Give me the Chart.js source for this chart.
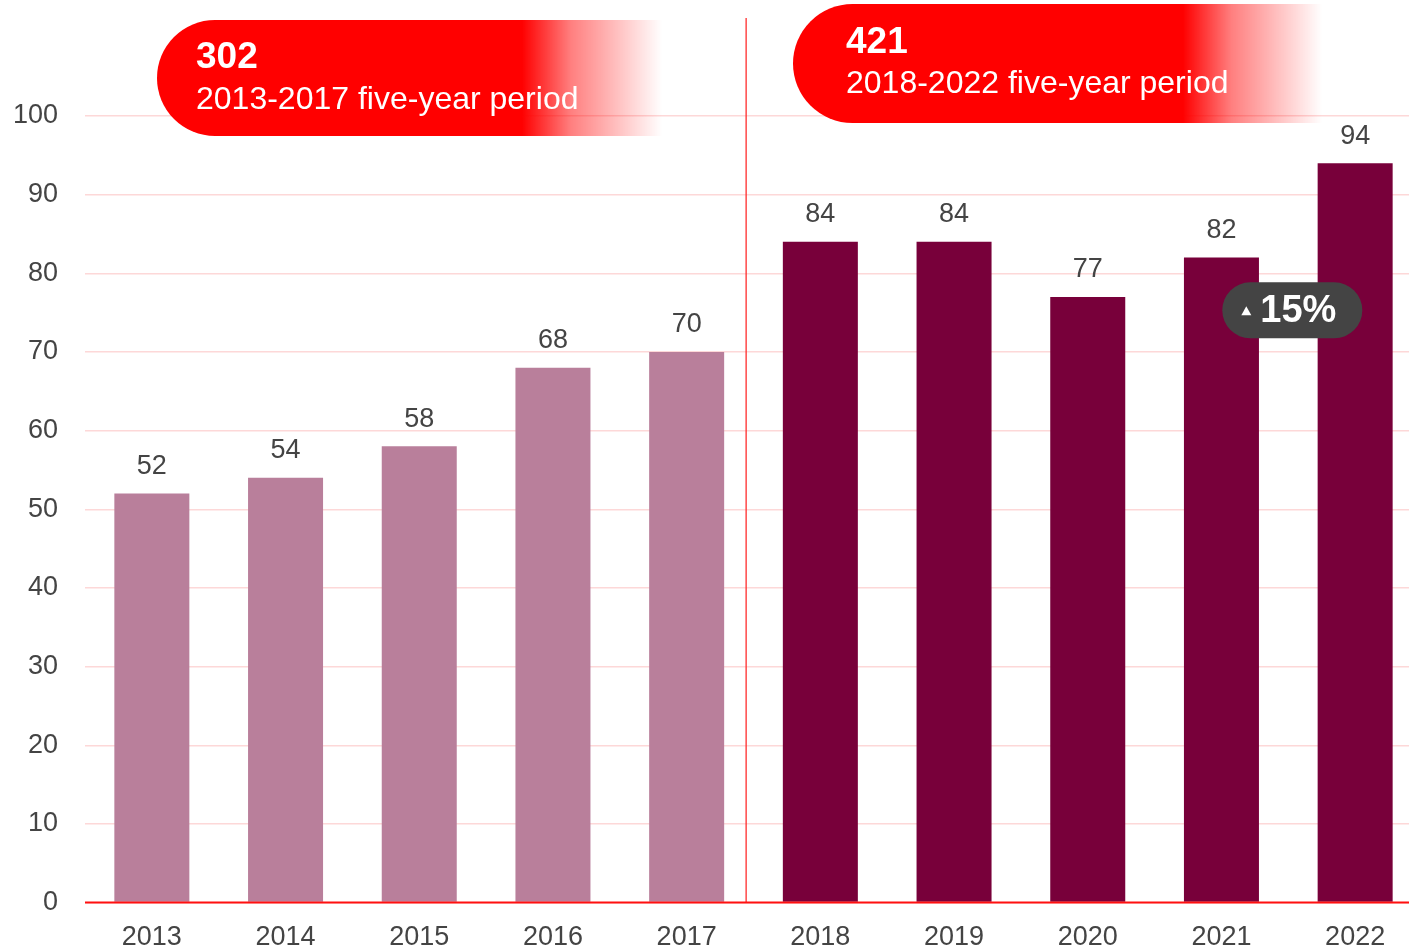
<!DOCTYPE html>
<html>
<head>
<meta charset="utf-8">
<script src="https://cdn.jsdelivr.net/npm/chart.js@4.4.1/dist/chart.umd.min.js"></script>
<style>
html,body{margin:0;padding:0;background:#fff;overflow:hidden;width:1409px;height:952px;}
#wrap{position:absolute;left:0;top:0;width:1422px;height:973px;}
</style>
</head>
<body>
<div id="wrap"><canvas id="c" width="1422" height="973"></canvas></div>
<script>
const years = ['2013','2014','2015','2016','2017','2018','2019','2020','2021','2022'];
const values = [52,54,58,68,70,84,84,77,82,94];
const yTicks = [0,10,20,30,40,50,60,70,80,90,100];
const periodTotals = [302,421];
const periodLabels = ['2013-2017 five-year period','2018-2022 five-year period'];
const growthLabel = '15%';

const FONT = "'Liberation Sans', Arial, Helvetica, sans-serif";
const barColors = values.map((v,i)=> i<5 ? '#b97f9b' : '#78003a');

function pill(ctx, x, y, w, h, r){
  ctx.beginPath();
  ctx.moveTo(x+r, y);
  ctx.lineTo(x+w-r, y);
  ctx.arc(x+w-r, y+r, r, -Math.PI/2, Math.PI/2);
  ctx.lineTo(x+r, y+h);
  ctx.arc(x+r, y+r, r, Math.PI/2, Math.PI*1.5);
  ctx.closePath();
}

const decor = {
  id:'decor',
  beforeDatasetsDraw(chart){
    const ctx = chart.ctx, xs = chart.scales.x, ys = chart.scales.y;
    const xa = xs.getPixelForValue(4), xb = xs.getPixelForValue(5);
    const xd = xa + (xb-xa)*0.445;
    ctx.save();
    ctx.strokeStyle = 'rgba(255,40,40,0.85)';
    ctx.lineWidth = 1.5;
    ctx.beginPath(); ctx.moveTo(xd, 18); ctx.lineTo(xd, ys.getPixelForValue(0)); ctx.stroke();
    ctx.restore();
  },
  afterDraw(chart){
    const ctx = chart.ctx, xs = chart.scales.x, ys = chart.scales.y;
    ctx.save();
    ctx.strokeStyle = '#ff1010'; ctx.lineWidth = 2;
    const y0 = ys.getPixelForValue(0);
    ctx.beginPath(); ctx.moveTo(chart.chartArea.left, y0); ctx.lineTo(chart.chartArea.right, y0); ctx.stroke();
    ctx.restore();

    const banners = [
      {x:157, y:20, w:510, h:116, fadeStart:522, fadeEnd:662, tx:196, ty1:58, ty2:100, total:periodTotals[0], label:periodLabels[0]},
      {x:793, y:4, w:530, h:119, fadeStart:1183, fadeEnd:1322, tx:846, ty1:43, ty2:84, total:periodTotals[1], label:periodLabels[1]}
    ];
    banners.forEach(b=>{
      ctx.save();
      const g = ctx.createLinearGradient(b.x, 0, b.x+b.w, 0);
      const s = (b.fadeStart-b.x)/b.w, e=(b.fadeEnd-b.x)/b.w;
      g.addColorStop(0,'rgba(255,0,0,1)');
      g.addColorStop(s,'rgba(255,0,0,1)');
      g.addColorStop(s+(e-s)*0.35,'rgba(255,0,0,0.5)');
      g.addColorStop(Math.min(e,1),'rgba(255,0,0,0)');
      g.addColorStop(1,'rgba(255,0,0,0)');
      ctx.fillStyle = g;
      const r = b.h/2;
      ctx.beginPath();
      ctx.moveTo(b.x+r, b.y);
      ctx.lineTo(b.x+b.w, b.y);
      ctx.lineTo(b.x+b.w, b.y+b.h);
      ctx.lineTo(b.x+r, b.y+b.h);
      ctx.arc(b.x+r, b.y+r, r, Math.PI/2, Math.PI*1.5);
      ctx.closePath();
      ctx.fill();
      ctx.fillStyle = '#fff';
      ctx.textBaseline = 'middle';
      ctx.textAlign = 'left';
      ctx.font = 'bold 37px ' + FONT;
      ctx.fillText(String(b.total), b.tx, b.ty1);
      ctx.font = '32px ' + FONT;
      ctx.fillText(b.label, b.tx, b.ty2);
      ctx.restore();
    });

    const cx = (xs.getPixelForValue(8)+xs.getPixelForValue(9))/2 + 4;
    const cy = ys.getPixelForValue(75.3);
    const bw = 140, bh = 56;
    ctx.save();
    ctx.fillStyle = '#444444';
    pill(ctx, cx-bw/2, cy-bh/2, bw, bh, bh/2);
    ctx.fill();
    ctx.fillStyle = '#fff';
    const tx = cx-bw/2+24;
    ctx.beginPath();
    ctx.moveTo(tx-5, cy+5); ctx.lineTo(tx+5, cy+5); ctx.lineTo(tx, cy-4); ctx.closePath(); ctx.fill();
    ctx.font = 'bold 38px ' + FONT;
    ctx.textBaseline = 'middle'; ctx.textAlign = 'left';
    ctx.fillText(growthLabel, tx+14, cy+1);
    ctx.restore();
  }
};

const valueLabels = {
  id:'valueLabels',
  afterDatasetsDraw(chart){
    const ctx = chart.ctx;
    const meta = chart.getDatasetMeta(0);
    ctx.save();
    ctx.fillStyle = '#444444';
    ctx.font = '27px ' + FONT;
    ctx.textAlign = 'center';
    ctx.textBaseline = 'middle';
    meta.data.forEach((bar,i)=>{
      ctx.fillText(String(values[i]), bar.x, bar.y - 27);
    });
    ctx.restore();
  }
};

new Chart(document.getElementById('c'), {
  type:'bar',
  data:{
    labels: years,
    datasets:[{
      data: values,
      backgroundColor: barColors,
      borderWidth: 0,
      barPercentage: 0.561,
      categoryPercentage: 1
    }]
  },
  options:{
    responsive:false,
    animation:false,
    devicePixelRatio:1,
    layout:{padding:{top:116, right:0, left:0, bottom:0}},
    plugins:{legend:{display:false}, tooltip:{enabled:false}},
    scales:{
      x:{
        grid:{display:false, drawTicks:false},
        border:{display:false},
        ticks:{color:'#444444', font:{family:FONT, size:27}, padding:19}
      },
      y:{
        min:0, max:100,
        afterBuildTicks(scale){ scale.ticks = yTicks.map(v=>({value:v})); },
        afterFit(scale){ scale.width = 85; },
        grid:{color:'#fdd8d8', lineWidth:1.5, drawTicks:false},
        border:{display:false},
        ticks:{color:'#444444', font:{family:FONT, size:27}, padding:27}
      }
    }
  },
  plugins:[decor, valueLabels]
});
</script>
</body>
</html>
